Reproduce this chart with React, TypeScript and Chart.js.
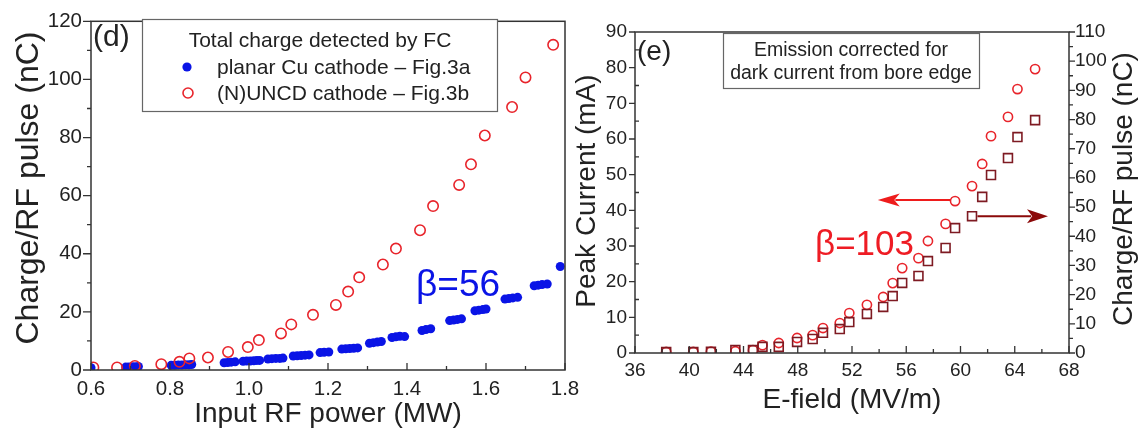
import React, { useEffect, useRef } from "react";
import { Chart, registerables } from "chart.js";
Chart.register(...registerables);

// ---------- Panel (d) data ----------
const rfPowerUNCD = [0.606, 0.666, 0.711, 0.778, 0.824, 0.849, 0.896, 0.947, 0.997, 1.025, 1.081, 1.107, 1.162, 1.22, 1.251, 1.279, 1.339, 1.372, 1.433, 1.466, 1.532, 1.562, 1.597, 1.666, 1.7, 1.77];
const chargeUNCD = [0.9, 0.9, 1.4, 2.0, 2.8, 4.0, 4.3, 6.2, 7.9, 10.3, 12.6, 15.7, 19.0, 22.4, 27.0, 31.9, 36.3, 41.8, 48.1, 56.4, 63.7, 70.8, 80.7, 90.5, 100.7, 111.9];

const rfPowerCu = [
  0.6,
  0.688, 0.696, 0.704, 0.712, 0.72,
  0.803, 0.812, 0.821, 0.83, 0.839, 0.848, 0.855,
  0.937, 0.946, 0.955, 0.965,
  0.985, 0.994, 1.003, 1.012, 1.02, 1.027,
  1.048, 1.058, 1.068, 1.078, 1.086,
  1.112, 1.122, 1.132, 1.142, 1.152,
  1.18, 1.19, 1.202,
  1.235, 1.245, 1.255, 1.265, 1.275,
  1.305, 1.315, 1.325, 1.335,
  1.362, 1.372, 1.382, 1.394,
  1.438, 1.448, 1.46,
  1.508, 1.518, 1.528, 1.538,
  1.572, 1.582, 1.592, 1.6,
  1.648, 1.658, 1.668, 1.68,
  1.722, 1.732, 1.742, 1.755,
  1.788,
];
const chargeCu = [
  0.8,
  1.0, 1.0, 1.1, 1.1, 1.2,
  1.6, 1.6, 1.7, 1.7, 1.8, 1.8, 1.9,
  2.5, 2.6, 2.7, 2.8,
  3.0, 3.1, 3.1, 3.2, 3.3, 3.3,
  3.8, 3.9, 4.0, 4.0, 4.1,
  4.8, 4.9, 5.0, 5.1, 5.2,
  6.0, 6.1, 6.2,
  7.2, 7.3, 7.4, 7.5, 7.6,
  9.2, 9.4, 9.6, 9.8,
  11.2, 11.4, 11.6, 11.5,
  13.6, 13.9, 14.2,
  17.0, 17.2, 17.4, 17.6,
  20.4, 20.6, 20.8, 21.0,
  24.4, 24.6, 24.8, 25.0,
  29.0, 29.2, 29.4, 29.6,
  35.6,
];

const xTicksD = [0.6, 0.8, 1.0, 1.2, 1.4, 1.6, 1.8];
const xMinorD = [0.7, 0.9, 1.1, 1.3, 1.5, 1.7];
const yTicksD = [0, 20, 40, 60, 80, 100, 120];
const yMinorD = [10, 30, 50, 70, 90, 110];

// ---------- Panel (e) data ----------
const eField = [38.3, 40.3, 41.6, 43.4, 44.7, 45.4, 46.6, 47.95, 49.1, 49.86, 51.1, 51.8, 53.1, 54.3, 55.0, 55.7, 56.9, 57.6, 58.9, 59.6, 60.85, 61.6, 62.25, 63.5, 64.2, 65.5];
const peakCurrent = [0.3, 0.3, 0.4, 0.5, 0.8, 2.2, 2.8, 4.2, 5.0, 7.0, 8.4, 11.2, 13.5, 15.7, 19.6, 23.8, 26.6, 31.4, 36.2, 42.6, 46.8, 53.0, 60.8, 66.2, 74.0, 79.6];
const chargeE = [0.3, 0.3, 0.4, 1.0, 1.0, 2.1, 2.1, 3.8, 4.8, 6.9, 8.2, 10.6, 13.4, 15.8, 19.5, 24.0, 26.4, 31.5, 36.0, 42.8, 46.9, 53.5, 61.0, 66.8, 74.0, 79.8];

const xTicksE = [36, 40, 44, 48, 52, 56, 60, 64, 68];
const xMinorE = [38, 42, 46, 50, 54, 58, 62, 66];
const yTicksE = [0, 10, 20, 30, 40, 50, 60, 70, 80, 90];
const yMinorE = [5, 15, 25, 35, 45, 55, 65, 75, 85];
const y2TicksE = [0, 10, 20, 30, 40, 50, 60, 70, 80, 90, 100, 110];
const y2MinorE = [5, 15, 25, 35, 45, 55, 65, 75, 85, 95, 105];

const FONT = '"Liberation Sans", Arial, sans-serif';
const TEXT = "#222";
const AXIS = "#333";
const BLUE = "#0a14e6";
const RED = "#e8242b";
const RED_TXT = "#ee1c24";
const MAROON = "#7e1a22";
const MAROON_ARROW = "#8b0a0a";

const W = 1138;
const H = 433;

function setTicks(vals: number[]) {
  return (s: any) => {
    s.ticks = vals.map((v) => ({ value: v }));
  };
}

function rotText(ctx: CanvasRenderingContext2D, txt: string, x: number, y: number, size: number) {
  ctx.save();
  ctx.translate(x, y);
  ctx.rotate(-Math.PI / 2);
  ctx.font = `${size}px ${FONT}`;
  ctx.textAlign = "center";
  ctx.textBaseline = "middle";
  ctx.fillStyle = TEXT;
  ctx.fillText(txt, 0, 0);
  ctx.restore();
}

function text(ctx: CanvasRenderingContext2D, txt: string, x: number, y: number, size: number, color = TEXT, align: CanvasTextAlign = "left") {
  ctx.font = `${size}px ${FONT}`;
  ctx.textAlign = align;
  ctx.textBaseline = "alphabetic";
  ctx.fillStyle = color;
  ctx.fillText(txt, x, y);
}

function arrow(ctx: CanvasRenderingContext2D, x0: number, x1: number, y: number, color: string, headLen: number, headHalf: number) {
  const dir = Math.sign(x1 - x0);
  ctx.save();
  ctx.strokeStyle = color;
  ctx.fillStyle = color;
  ctx.lineWidth = 2;
  ctx.beginPath();
  ctx.moveTo(x0, y);
  ctx.lineTo(x1 - dir * headLen * 0.8, y);
  ctx.stroke();
  ctx.beginPath();
  ctx.moveTo(x1, y);
  ctx.lineTo(x1 - dir * headLen, y - headHalf);
  ctx.lineTo(x1 - dir * headLen * 0.75, y);
  ctx.lineTo(x1 - dir * headLen, y + headHalf);
  ctx.closePath();
  ctx.fill();
  ctx.restore();
}

const decorD = {
  id: "decorD",
  afterDraw(chart: any) {
    const { ctx, chartArea: a, scales } = chart;
    const x = scales.x;
    const y = scales.y;
    ctx.save();
    ctx.strokeStyle = AXIS;
    ctx.lineWidth = 1.5;
    ctx.strokeRect(a.left, a.top, a.right - a.left, a.bottom - a.top);
    ctx.lineWidth = 1.3;
    ctx.beginPath();
    for (const v of xTicksD) { const p = x.getPixelForValue(v); ctx.moveTo(p, a.bottom); ctx.lineTo(p, a.bottom - 7); }
    for (const v of xMinorD) { const p = x.getPixelForValue(v); ctx.moveTo(p, a.bottom); ctx.lineTo(p, a.bottom - 4); }
    for (const v of yTicksD) { const p = y.getPixelForValue(v); ctx.moveTo(a.left, p); ctx.lineTo(a.left - 8, p); }
    for (const v of yMinorD) { const p = y.getPixelForValue(v); ctx.moveTo(a.left, p); ctx.lineTo(a.left - 4, p); }
    ctx.stroke();

    // axis titles
    rotText(ctx, "Charge/RF pulse (nC)", 29, 188, 32);
    text(ctx, "Input RF power (MW)", (a.left + a.right) / 2, 422, 28, TEXT, "center");

    // panel label
    text(ctx, "(d)", 93, 46, 30);

    // legend
    ctx.fillStyle = "#fff";
    ctx.fillRect(142, 19, 355, 92);
    ctx.strokeStyle = "#666";
    ctx.lineWidth = 1.2;
    ctx.strokeRect(142.5, 19.5, 355, 92);
    text(ctx, "Total charge detected by FC", 320, 47, 21, TEXT, "center");
    ctx.fillStyle = BLUE;
    ctx.beginPath();
    ctx.arc(187, 67, 4.6, 0, Math.PI * 2);
    ctx.fill();
    text(ctx, "planar Cu cathode \u2013 Fig.3a", 217, 74, 21);
    ctx.strokeStyle = RED;
    ctx.lineWidth = 1.6;
    ctx.beginPath();
    ctx.arc(188, 93, 5, 0, Math.PI * 2);
    ctx.stroke();
    text(ctx, "(N)UNCD cathode \u2013 Fig.3b", 217, 100, 21);

    // beta annotation
    text(ctx, "\u03b2=56", 416, 296, 37, BLUE);
    ctx.restore();
  },
};

const decorE = {
  id: "decorE",
  afterDraw(chart: any) {
    const { ctx, chartArea: a, scales } = chart;
    const x = scales.x;
    const y = scales.y;
    const y2 = scales.y2;
    ctx.save();
    ctx.strokeStyle = AXIS;
    ctx.lineWidth = 1.5;
    ctx.strokeRect(a.left, a.top, a.right - a.left, a.bottom - a.top);
    ctx.lineWidth = 1.3;
    ctx.beginPath();
    for (const v of xTicksE) { const p = x.getPixelForValue(v); ctx.moveTo(p, a.bottom); ctx.lineTo(p, a.bottom - 7); }
    for (const v of xMinorE) { const p = x.getPixelForValue(v); ctx.moveTo(p, a.bottom); ctx.lineTo(p, a.bottom - 4); }
    for (const v of yTicksE) { const p = y.getPixelForValue(v); ctx.moveTo(a.left, p); ctx.lineTo(a.left - 6, p); }
    for (const v of yMinorE) { const p = y.getPixelForValue(v); ctx.moveTo(a.left, p); ctx.lineTo(a.left + 4, p); }
    for (const v of y2TicksE) { const p = y2.getPixelForValue(v); ctx.moveTo(a.right, p); ctx.lineTo(a.right + 6, p); }
    for (const v of y2MinorE) { const p = y2.getPixelForValue(v); ctx.moveTo(a.right, p); ctx.lineTo(a.right + 4, p); }
    ctx.stroke();

    rotText(ctx, "Peak Current (mA)", 587, 191, 28);
    rotText(ctx, "Charge/RF pulse (nC)", 1124, 189, 28);
    text(ctx, "E-field (MV/m)", (a.left + a.right) / 2, 408, 28, TEXT, "center");

    text(ctx, "(e)", 637, 60, 28);

    // legend box
    ctx.fillStyle = "#fff";
    ctx.fillRect(723, 33, 256, 55);
    ctx.strokeStyle = "#666";
    ctx.lineWidth = 1.2;
    ctx.strokeRect(723.5, 33.5, 256, 55);
    text(ctx, "Emission corrected for", 851, 56, 19.5, TEXT, "center");
    text(ctx, "dark current from bore edge", 851, 79, 19.5, TEXT, "center");

    // arrows (axis indicators)
    const yl = y.getPixelForValue(42.9);
    arrow(ctx, x.getPixelForValue(59.25), x.getPixelForValue(53.9), yl, "#ee1c1c", 22, 6.5);
    const yr = y2.getPixelForValue(46.9);
    arrow(ctx, x.getPixelForValue(61.25), x.getPixelForValue(66.45), yr, MAROON_ARROW, 21, 7);

    text(ctx, "\u03b2=103", 815, 255, 35, RED_TXT);
    ctx.restore();
  },
};

const tickFontD = { family: FONT, size: 20.5 };
const tickFontE = { family: FONT, size: 19 };
const noGrid = { display: false, drawTicks: false, tickLength: 0 };

export default function App() {
  const leftRef = useRef<HTMLCanvasElement>(null);
  const rightRef = useRef<HTMLCanvasElement>(null);

  useEffect(() => {
    const c1 = new Chart(leftRef.current!, {
      type: "scatter",
      data: {
        datasets: [
          {
            label: "(N)UNCD cathode \u2013 Fig.3b",
            data: rfPowerUNCD.map((v, i) => ({ x: v, y: chargeUNCD[i] })),
            pointStyle: "circle",
            pointRadius: 5.2,
            backgroundColor: "rgba(0,0,0,0)",
            borderColor: RED,
            borderWidth: 1.6,
          },
          {
            label: "planar Cu cathode \u2013 Fig.3a",
            data: rfPowerCu.map((v, i) => ({ x: v, y: chargeCu[i] })),
            pointStyle: "circle",
            pointRadius: 4.5,
            backgroundColor: BLUE,
            borderColor: BLUE,
            borderWidth: 0,
          },
        ],
      },
      options: {
        responsive: false,
        animation: false,
        events: [],
        layout: { padding: { left: 0, right: W - 565, top: 16, bottom: 0 } },
        plugins: { legend: { display: false }, tooltip: { enabled: false } },
        scales: {
          x: {
            type: "linear",
            min: 0.6,
            max: 1.8,
            afterBuildTicks: setTicks(xTicksD),
            afterFit: (s: any) => { s.height = H - 370; },
            grid: noGrid,
            border: { display: false },
            ticks: { font: tickFontD, color: TEXT, padding: 7, maxRotation: 0, callback: (v: any) => Number(v).toFixed(1) },
          },
          y: {
            type: "linear",
            min: 0,
            max: 120,
            afterBuildTicks: setTicks(yTicksD),
            afterFit: (s: any) => { s.width = 91; },
            grid: noGrid,
            border: { display: false },
            ticks: { font: tickFontD, color: TEXT, padding: 9, callback: (v: any) => String(v) },
          },
        },
      },
      plugins: [decorD],
    } as any);

    const c2 = new Chart(rightRef.current!, {
      type: "scatter",
      data: {
        datasets: [
          {
            label: "Charge/RF pulse",
            data: eField.map((v, i) => ({ x: v, y: chargeE[i] })),
            yAxisID: "y2",
            pointStyle: "rect",
            pointRadius: 6.3,
            backgroundColor: "rgba(0,0,0,0)",
            borderColor: MAROON,
            borderWidth: 1.6,
          },
          {
            label: "Peak Current",
            data: eField.map((v, i) => ({ x: v, y: peakCurrent[i] })),
            yAxisID: "y",
            pointStyle: "circle",
            pointRadius: 4.6,
            backgroundColor: "rgba(0,0,0,0)",
            borderColor: RED,
            borderWidth: 1.6,
          },
        ],
      },
      options: {
        responsive: false,
        animation: false,
        events: [],
        layout: { padding: { left: 0, right: 0, top: 32, bottom: 0 } },
        plugins: { legend: { display: false }, tooltip: { enabled: false } },
        scales: {
          x: {
            type: "linear",
            min: 36,
            max: 68,
            afterBuildTicks: setTicks(xTicksE),
            afterFit: (s: any) => { s.height = H - 353; },
            grid: noGrid,
            border: { display: false },
            ticks: { font: tickFontE, color: TEXT, padding: 6, maxRotation: 0, callback: (v: any) => String(v) },
          },
          y: {
            type: "linear",
            position: "left",
            min: 0,
            max: 90,
            afterBuildTicks: setTicks(yTicksE),
            afterFit: (s: any) => { s.width = 635; },
            grid: noGrid,
            border: { display: false },
            ticks: { font: tickFontE, color: TEXT, padding: 8, callback: (v: any) => String(v) },
          },
          y2: {
            type: "linear",
            position: "right",
            min: 0,
            max: 110,
            afterBuildTicks: setTicks(y2TicksE),
            afterFit: (s: any) => { s.width = W - 1069; },
            grid: noGrid,
            border: { display: false },
            ticks: { font: tickFontE, color: TEXT, padding: 6, callback: (v: any) => String(v) },
          },
        },
      },
      plugins: [decorE],
    } as any);

    return () => {
      c1.destroy();
      c2.destroy();
    };
  }, []);

  return (
    <div style={{ position: "fixed", left: 0, top: 0, width: W, height: H, background: "#fff", overflow: "hidden" }}>
      <canvas ref={leftRef} width={W} height={H} style={{ position: "absolute", left: 0, top: 0 }} />
      <canvas ref={rightRef} width={W} height={H} style={{ position: "absolute", left: 0, top: 0 }} />
    </div>
  );
}
